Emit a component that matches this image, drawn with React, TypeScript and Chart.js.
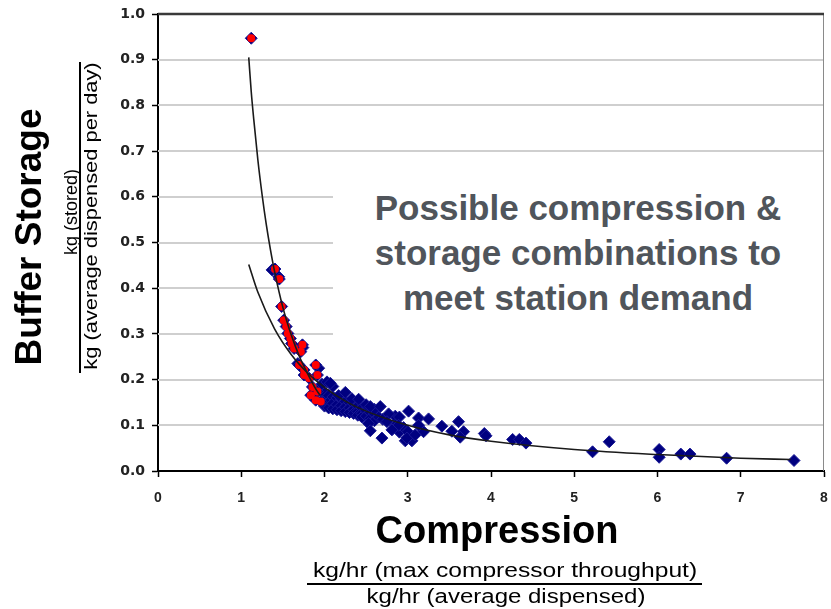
import React, { useEffect, useRef } from "react";
import { Chart, registerables } from "chart.js";

Chart.register(...registerables);

// Red points (selected combinations)
const redX = [1.12, 1.405, 1.457, 1.485, 1.51, 1.54, 1.56, 1.59, 1.605, 1.635, 1.735, 1.715, 1.695, 1.755, 1.755, 1.895, 1.915, 1.815, 1.855, 1.835, 1.915, 1.895, 1.955];
const redY = [0.947, 0.442, 0.42, 0.36, 0.33, 0.316, 0.301, 0.29, 0.279, 0.268, 0.276, 0.261, 0.232, 0.221, 0.21, 0.232, 0.21, 0.203, 0.184, 0.166, 0.174, 0.155, 0.152];

// Blue diamonds (all combinations)
const blueX = [
  1.37, 1.45, 1.74, 1.68, 1.93, 1.97, 2.03,
  2.0, 2.0, 2.0, 2.05, 2.05, 2.05, 2.1, 2.1, 2.1, 2.15, 2.15, 2.15, 2.2, 2.2, 2.2,
  2.25, 2.25, 2.25, 2.3, 2.3, 2.3, 2.35, 2.35, 2.35, 2.4, 2.4, 2.4, 2.45, 2.45, 2.45,
  2.5, 2.5, 2.55, 2.55, 2.6, 2.6, 2.65, 2.7, 2.1, 2.17, 2.33, 2.5, 2.6, 2.85, 2.9, 2.85, 2.9, 2.95,
  2.07, 2.25, 2.41, 2.55, 2.67, 2.77, 3.01, 3.13, 3.25, 3.41, 3.61, 3.53, 3.67, 3.63, 3.92, 3.94,
  4.26, 4.34, 4.42, 3.19, 2.97, 3.05, 3.0, 2.89, 2.53, 2.55, 2.69, 2.81, 2.75, 2.99, 3.09, 3.13,
  5.22, 5.42, 6.02, 6.02, 6.28, 6.39, 6.83, 7.64,
];
const blueY = [
  0.44, 0.425, 0.27, 0.235, 0.225, 0.19, 0.195,
  0.17, 0.155, 0.142, 0.165, 0.15, 0.138, 0.162, 0.148, 0.136, 0.16, 0.145, 0.134, 0.157, 0.143, 0.132,
  0.152, 0.14, 0.13, 0.15, 0.138, 0.128, 0.147, 0.135, 0.126, 0.142, 0.13, 0.122, 0.138, 0.126, 0.118,
  0.132, 0.12, 0.128, 0.115, 0.125, 0.11, 0.118, 0.113, 0.185, 0.165, 0.158, 0.145, 0.135, 0.12, 0.118, 0.1, 0.085, 0.095,
  0.192, 0.172, 0.157, 0.141, 0.141, 0.125, 0.131, 0.116, 0.114, 0.098, 0.108, 0.087, 0.086, 0.074, 0.082, 0.077,
  0.069, 0.069, 0.061, 0.086, 0.066, 0.066, 0.086, 0.1, 0.104, 0.088, 0.072, 0.09, 0.108, 0.072, 0.079, 0.1,
  0.042, 0.064, 0.047, 0.03, 0.037, 0.037, 0.028, 0.023,
];

// Trend curve fitted to red points
const fit1X = [1.09, 1.12, 1.15, 1.2, 1.25, 1.3, 1.35, 1.4, 1.5, 1.6, 1.7, 1.8, 1.9, 1.95];
const fit1Y = [0.905, 0.83, 0.77, 0.68, 0.605, 0.54, 0.485, 0.437, 0.358, 0.298, 0.25, 0.212, 0.178, 0.165];

// Trend curve fitted to all points
const fit2X = [1.09, 1.2, 1.4, 1.6, 1.8, 2.0, 2.25, 2.5, 3.0, 3.5, 4.0, 5.0, 6.0, 7.0, 7.6];
const fit2Y = [0.452, 0.391, 0.311, 0.255, 0.214, 0.183, 0.153, 0.131, 0.1, 0.079, 0.065, 0.047, 0.036, 0.028, 0.025];

const xTicks = [0, 1, 2, 3, 4, 5, 6, 7, 8];
const yTicks = [0, 0.1, 0.2, 0.3, 0.4, 0.5, 0.6, 0.7, 0.8, 0.9, 1.0];

const toPts = (xs: number[], ys: number[]) => xs.map((x, i) => ({ x, y: ys[i] }));

// draws horizontal gridlines and the plot frame through the chart's own scales
const framePlugin = {
  id: "frameLines",
  beforeDatasetsDraw(chart: any) {
    const { ctx, chartArea, scales } = chart;
    const ys = scales.y;
    const xs = scales.x;
    ctx.save();
    ctx.strokeStyle = "#cfcfcf";
    ctx.lineWidth = 2;
    yTicks.forEach((v) => {
      if (v === 0 || v === 1) return;
      const py = Math.round(ys.getPixelForValue(v));
      ctx.beginPath();
      ctx.moveTo(chartArea.left, py);
      ctx.lineTo(chartArea.right, py);
      ctx.stroke();
    });
    // right frame
    const rx = Math.round(xs.getPixelForValue(8)) - 0.5;
    ctx.strokeStyle = "#8a8a8a";
    ctx.lineWidth = 1;
    ctx.beginPath();
    ctx.moveTo(rx, chartArea.top);
    ctx.lineTo(rx, chartArea.bottom);
    ctx.stroke();
    // top frame
    const ty = Math.round(ys.getPixelForValue(1));
    ctx.strokeStyle = "#3a3a3a";
    ctx.lineWidth = 2.5;
    ctx.beginPath();
    ctx.moveTo(chartArea.left, ty);
    ctx.lineTo(chartArea.right, ty);
    ctx.stroke();
    ctx.restore();
  },
};

export default function App() {
  const ref = useRef<HTMLCanvasElement | null>(null);

  useEffect(() => {
    if (!ref.current) return;
    const chart = new Chart(ref.current, {
      type: "scatter",
      plugins: [framePlugin],
      data: {
        datasets: [
          {
            type: "line",
            label: "fit red",
            data: toPts(fit1X, fit1Y),
            borderColor: "#1a1a1a",
            borderWidth: 1.6,
            pointRadius: 0,
            showLine: true,
            fill: false,
            cubicInterpolationMode: "monotone",
            order: 0,
          } as any,
          {
            type: "line",
            label: "fit all",
            data: toPts(fit2X, fit2Y),
            borderColor: "#1a1a1a",
            borderWidth: 1.6,
            pointRadius: 0,
            showLine: true,
            fill: false,
            cubicInterpolationMode: "monotone",
            order: 1,
          } as any,
          {
            label: "selected",
            data: toPts(redX, redY),
            pointStyle: "circle",
            pointRadius: 4,
            backgroundColor: "#ff0000",
            borderColor: "#ff0000",
            borderWidth: 0,
            order: 2,
          },
          {
            label: "all",
            data: toPts(blueX.concat(redX), blueY.concat(redY)),
            pointStyle: "rectRot",
            pointRadius: 6,
            backgroundColor: "#000080",
            borderColor: "#1a1a96",
            borderWidth: 1,
            order: 3,
          },
        ],
      },
      options: {
        responsive: false,
        animation: false,
        events: [],
        layout: { padding: { top: 14, right: 3, left: 0, bottom: 0 } },
        plugins: { legend: { display: false }, tooltip: { enabled: false } },
        scales: {
          x: {
            type: "linear",
            min: 0,
            max: 8,
            afterBuildTicks: (s: any) => {
              s.ticks = xTicks.map((v) => ({ value: v }));
            },
            afterFit: (s: any) => {
              s.height = 138;
              s.paddingLeft = 0;
              s.paddingRight = 0;
            },
            border: { display: true, color: "#000", width: 2 },
            grid: {
              drawOnChartArea: false,
              color: "#000",
              tickColor: "#000",
              tickLength: 6,
              tickWidth: 1.5,
            },
            ticks: {
              color: "#222",
              padding: 13,
              maxRotation: 0,
              autoSkip: false,
              font: { family: "'Liberation Sans', Arial, sans-serif", size: 14, weight: "bold" },
              callback: (v: any) => String(v),
            },
          },
          y: {
            type: "linear",
            min: 0,
            max: 1,
            afterBuildTicks: (s: any) => {
              s.ticks = yTicks.map((v) => ({ value: v }));
            },
            afterFit: (s: any) => {
              s.width = 158;
              s.paddingTop = 0;
              s.paddingBottom = 0;
            },
            border: { display: true, color: "#000", width: 2 },
            grid: {
              drawOnChartArea: false,
              color: "#000",
              tickColor: "#000",
              tickLength: 6,
              tickWidth: 1.5,
            },
            ticks: {
              color: "#222",
              padding: 7,
              autoSkip: false,
              font: { family: "'DejaVu Sans', sans-serif", size: 14, weight: "bold" },
              callback: (v: any) => Number(v).toFixed(1),
            },
          },
        },
      },
    });
    return () => chart.destroy();
  }, []);

  const sub: React.CSSProperties = {
    position: "absolute",
    fontFamily: "'Liberation Sans', Arial, sans-serif",
    fontSize: 20,
    color: "#000",
    whiteSpace: "nowrap",
    lineHeight: "20px",
  };

  return (
    <div style={{ position: "absolute", left: 0, top: 0, width: 831, height: 609, background: "#fff", overflow: "hidden" }}>
      <canvas ref={ref} width={831} height={609} style={{ position: "absolute", left: 0, top: 0 }} />

      {/* annotation box */}
      <div
        style={{
          position: "absolute",
          left: 333,
          top: 160,
          width: 490,
          height: 195,
          background: "#fff",
          boxSizing: "border-box",
          paddingTop: 25,
          textAlign: "center",
          fontFamily: "'Liberation Sans', Arial, sans-serif",
          fontWeight: "bold",
          fontSize: 35,
          lineHeight: "45px",
          color: "#50555b",
        }}
      >
        Possible compression &amp;
        <br />
        storage combinations to
        <br />
        meet station demand
      </div>

      {/* Y title */}
      <div
        style={{
          position: "absolute",
          left: 28,
          top: 237,
          transform: "translate(-50%, -50%) rotate(-90deg)",
          fontFamily: "'Liberation Sans', Arial, sans-serif",
          fontWeight: "bold",
          fontSize: 37,
          lineHeight: "37px",
          whiteSpace: "nowrap",
          color: "#000",
        }}
      >
        Buffer Storage
      </div>
      <div style={{ ...sub, fontSize: 18, left: 71, top: 212, transform: "translate(-50%, -50%) rotate(-90deg)" }}>kg (stored)</div>
      <div style={{ position: "absolute", left: 79, top: 62, width: 2, height: 311, background: "#000" }} />
      <div style={{ ...sub, fontSize: 19, left: 91, top: 216, transform: "translate(-50%, -50%) rotate(-90deg) scaleX(1.15)" }}>
        kg (average dispensed per day)
      </div>

      {/* X title */}
      <div
        style={{
          position: "absolute",
          left: 497,
          top: 530,
          transform: "translate(-50%, -50%)",
          fontFamily: "'Liberation Sans', Arial, sans-serif",
          fontWeight: "bold",
          fontSize: 38,
          lineHeight: "38px",
          whiteSpace: "nowrap",
          color: "#000",
        }}
      >
        Compression
      </div>
      <div style={{ ...sub, left: 505, top: 570, transform: "translate(-50%, -50%) scaleX(1.23)" }}>
        kg/hr (max compressor throughput)
      </div>
      <div style={{ position: "absolute", left: 307, top: 583, width: 395, height: 2, background: "#000" }} />
      <div style={{ ...sub, left: 506, top: 596, transform: "translate(-50%, -50%) scaleX(1.2)" }}>
        kg/hr (average dispensed)
      </div>
    </div>
  );
}
